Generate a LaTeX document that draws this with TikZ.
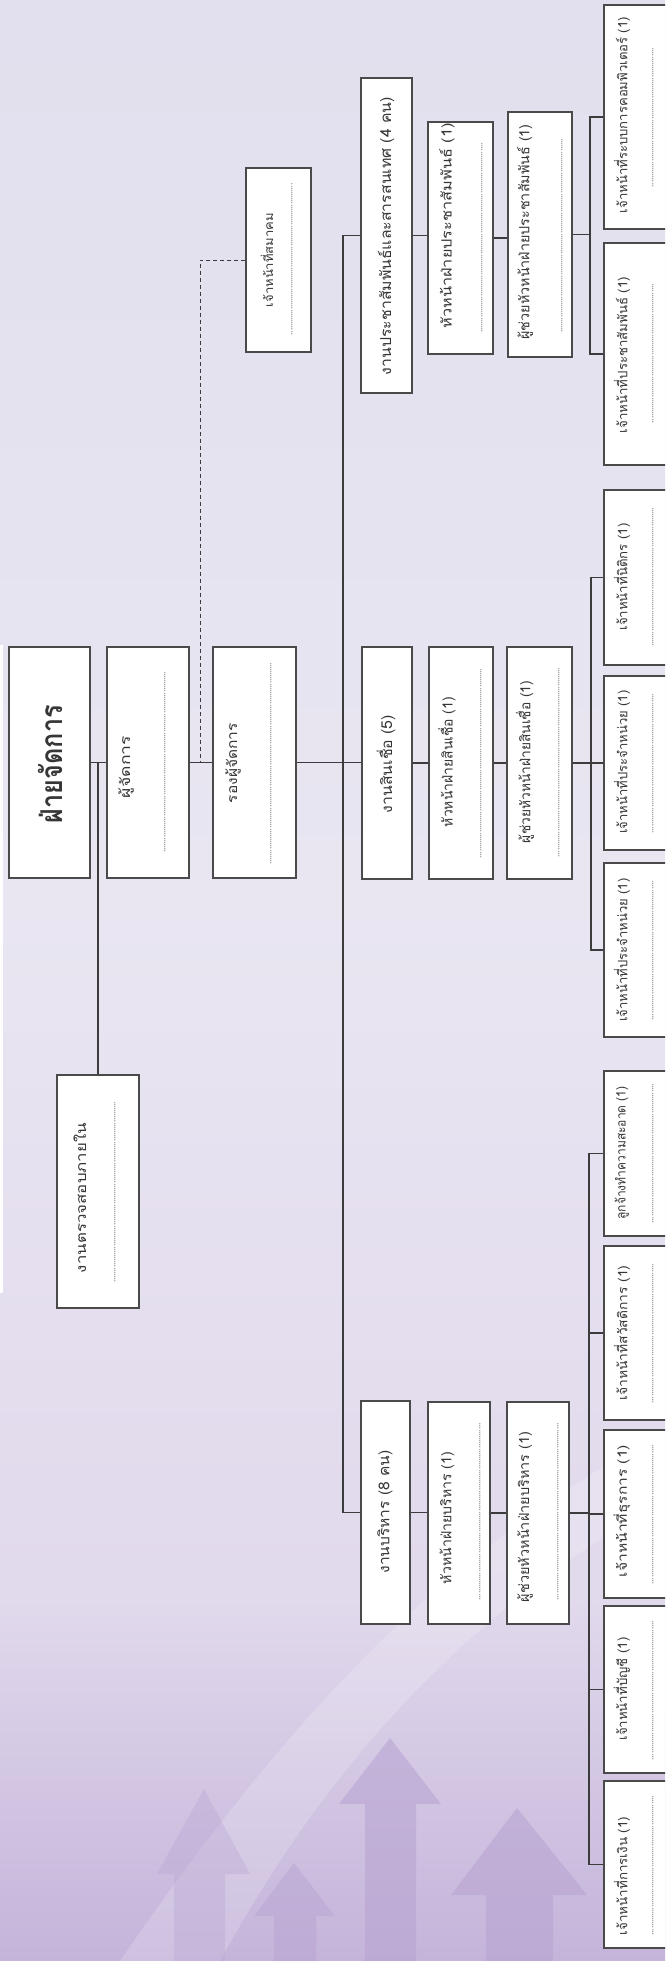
\documentclass[tikz,border=0pt]{standalone}
\usepackage{fontspec}
\setmainfont{Loma}[Script=Thai]
\usepackage{graphicx}
\definecolor{boxc}{HTML}{4A4A4A}
\definecolor{linec}{HTML}{3C3C3C}
\definecolor{txtc}{HTML}{363636}
\definecolor{dotc}{HTML}{4E4E4E}
\definecolor{bgtop}{HTML}{E2DFEE}
\definecolor{bgmid}{HTML}{E9E6F2}
\definecolor{bglow}{HTML}{E1D9EC}
\definecolor{bgbot}{HTML}{C4B4DA}
\definecolor{arrc}{HTML}{B8A4D2}
\tikzset{
  box/.style={draw=boxc, fill=white, line width=1.1pt, inner sep=0pt},
  conn/.style={draw=linec, line width=1.1pt},
  dconn/.style={draw=linec, line width=0.9pt, dash pattern=on 4pt off 3pt},
  lbl/.style={inner sep=0pt, rotate=90, text=txtc},
  dotlbl/.style={inner sep=0pt, rotate=90, text=dotc},
}
\newcommand\bx[5]{\node[box, minimum width={(#3-#2)*1pt}, minimum height={(#5-#4)*1pt}] (#1) at ({(#2+#3)/2},{(#4+#5)/2}) {};}
\newcommand\lb[6]{\node[lbl] (#1) at (#2,#3) {\fontsize{#4}{#4}\selectfont\resizebox{#5pt}{\height}{#6}};}
\newcommand\dts[4]{\node[dotlbl] (#1) at (#2,#3) {\fontsize{9}{9}\selectfont\hbox to #4pt{\leaders\hbox to 2.1pt{\hss.\hss}\hfill}};}
\begin{document}
\begin{tikzpicture}[x=1pt,y=-1pt]
\useasboundingbox (0,0) rectangle (665,1961);
\clip (0,0) rectangle (665,1961);
% background
\shade[top color=bgtop, bottom color=bgmid] (0,0) rectangle (665,900);
\shade[top color=bgmid, bottom color=bglow] (0,899) rectangle (665,1600);
\shade[top color=bglow, bottom color=bgbot] (0,1599) rectangle (665,1961);
\fill[white, opacity=0.18] (120,1961) .. controls (300,1700) and (450,1550) .. (665,1430) -- (665,1500) .. controls (470,1610) and (330,1760) .. (220,1961) -- cycle;
\fill[white] (0,645) rectangle (3,1293);
% decorative arrows
\fill[arrc, opacity=0.35] (204,1789) -- (250,1874) -- (225,1874) -- (225,1961) -- (174,1961) -- (174,1874) -- (157,1874) -- cycle;
\fill[arrc, opacity=0.6] (390,1738) -- (441,1804) -- (416,1804) -- (416,1961) -- (365,1961) -- (365,1804) -- (339,1804) -- cycle;
\fill[arrc, opacity=0.6] (517,1808) -- (587,1895) -- (553,1895) -- (553,1961) -- (486,1961) -- (486,1895) -- (451,1895) -- cycle;
\fill[arrc, opacity=0.5] (294,1863) -- (335,1916) -- (316,1916) -- (316,1961) -- (274,1961) -- (274,1916) -- (254,1916) -- cycle;

% ---------- top level ----------
\bx{boss}{9}{90}{647}{878}
\lb{bosst}{50}{764}{30}{118}{\bfseries ฝ่ายจัดการ}
\bx{mgr}{107}{189}{647}{878}
\lb{mgrt}{126}{767}{14}{62}{ผู้จัดการ}
\dts{mgrd}{165}{762}{181}
\bx{dep}{213}{296}{647}{878}
\lb{dept}{233}{763}{14}{80}{รองผู้จัดการ}
\dts{depd}{271}{763}{203}
\bx{assoc}{246}{311}{168}{352}
\lb{assoct}{267}{260}{12}{94}{เจ้าหน้าที่สมาคม}
\dts{assocd}{292}{259}{152}
\bx{audit}{57}{139}{1075}{1308}
\lb{auditt}{80}{1198}{14}{150}{งานตรวจสอบภายใน}
\dts{auditd}{115}{1192}{181}

% ---------- section heads ----------
\bx{pr}{361}{412}{78}{393}
\lb{prt}{386}{236}{15}{278}{งานประชาสัมพันธ์และสารสนเทศ (4 คน)}
\bx{prh}{428}{493}{122}{354}
\lb{prht}{447}{226}{14}{205}{หัวหน้าฝ่ายประชาสัมพันธ์ (1)}
\dts{prhd}{482}{237}{191}
\bx{pra}{508}{572}{112}{357}
\lb{prat}{525}{232}{14}{215}{ผู้ช่วยหัวหน้าฝ่ายประชาสัมพันธ์ (1)}
\dts{prad}{562}{235}{195}

\bx{cr}{362}{412}{647}{879}
\lb{crt}{386}{764}{15}{98}{งานสินเชื่อ (5)}
\bx{crh}{429}{493}{647}{879}
\lb{crht}{447}{762}{14}{130}{หัวหน้าฝ่ายสินเชื่อ (1)}
\dts{crhd}{481}{763}{190}
\bx{cra}{507}{572}{647}{879}
\lb{crat}{525}{762}{14}{162}{ผู้ช่วยหัวหน้าฝ่ายสินเชื่อ (1)}
\dts{crad}{559}{762}{190}

\bx{ad}{361}{410}{1401}{1624}
\lb{adt}{385}{1512}{15}{123}{งานบริหาร (8 คน)}
\bx{adh}{428}{490}{1402}{1624}
\lb{adht}{447}{1518}{14}{132}{หัวหน้าฝ่ายบริหาร (1)}
\dts{adhd}{480}{1511}{178}
\bx{ada}{507}{569}{1402}{1624}
\lb{adat}{525}{1517}{14}{170}{ผู้ช่วยหัวหน้าฝ่ายบริหาร (1)}
\dts{adad}{558}{1511}{178}

% ---------- staff ----------
\bx{p1}{604}{680}{5}{229}
\lb{p1t}{622}{115}{13}{196}{เจ้าหน้าที่ระบบการคอมพิวเตอร์ (1)}
\dts{p1d}{653}{117}{140}
\bx{p2}{604}{680}{243}{465}
\lb{p2t}{622}{355}{13}{156}{เจ้าหน้าที่ประชาสัมพันธ์ (1)}
\dts{p2d}{653}{353}{140}

\bx{k1}{604}{680}{490}{665}
\lb{k1t}{622}{577}{13}{107}{เจ้าหน้าที่นิติกร (1)}
\dts{k1d}{653}{577}{139}
\bx{k2}{604}{680}{676}{850}
\lb{k2t}{622}{762}{13}{143}{เจ้าหน้าที่ประจำหน่วย (1)}
\dts{k2d}{653}{763}{140}
\bx{k3}{604}{680}{863}{1037}
\lb{k3t}{622}{950}{13}{143}{เจ้าหน้าที่ประจำหน่วย (1)}
\dts{k3d}{653}{950}{140}

\bx{a1}{604}{680}{1071}{1236}
\lb{a1t}{622}{1153}{13}{133}{ลูกจ้างทำความสะอาด (1)}
\dts{a1d}{653}{1153}{140}
\bx{a2}{604}{680}{1246}{1420}
\lb{a2t}{622}{1333}{13}{135}{เจ้าหน้าที่สวัสดิการ (1)}
\dts{a2d}{653}{1333}{140}
\bx{a3}{604}{680}{1430}{1598}
\lb{a3t}{622}{1511}{13}{132}{เจ้าหน้าที่ธุรการ (1)}
\dts{a3d}{653}{1514}{140}
\bx{a4}{604}{680}{1606}{1773}
\lb{a4t}{622}{1689}{13}{103}{เจ้าหน้าที่บัญชี (1)}
\dts{a4d}{653}{1690}{140}
\bx{a5}{604}{680}{1781}{1948}
\lb{a5t}{622}{1876}{13}{118}{เจ้าหน้าที่การเงิน (1)}
\dts{a5d}{653}{1865}{140}

% ---------- connectors ----------
\coordinate (dj) at (200,762);
\coordinate (bus) at (343,762);
\coordinate (prbus) at (590,236);
\coordinate (crbus) at (591,763);
\coordinate (adbus) at (589,1512);

\draw[conn] (boss.east) -- (boss.east -| mgr.west);
\draw[conn] (mgr.east) -- (mgr.east -| dep.west);
\draw[conn] (audit.north) -- (audit.north |- boss.east);
\draw[dconn] (assoc.west) -| (dj);
\draw[conn] (dep.east) -- (dep.east -| cr.west);
\draw[conn] (pr.west) -| (bus) |- (ad.west);

\draw[conn] (pr.east) -- (pr.east -| prh.west);
\draw[conn] (prh.east) -- (prh.east -| pra.west);
\draw[conn] (pra.east) -- (pra.east -| prbus);
\draw[conn] (p1.west) -| (prbus) |- (p2.west);

\draw[conn] (cr.east) -- (cr.east -| crh.west);
\draw[conn] (crh.east) -- (crh.east -| cra.west);
\draw[conn] (cra.east) -- (cra.east -| crbus);
\draw[conn] (k1.west) -| (crbus) |- (k3.west);
\draw[conn] (k2.west) -- (k2.west -| crbus);

\draw[conn] (ad.east) -- (ad.east -| adh.west);
\draw[conn] (adh.east) -- (adh.east -| ada.west);
\draw[conn] (ada.east) -- (ada.east -| adbus);
\draw[conn] (a1.west) -| (adbus) |- (a5.west);
\draw[conn] (a2.west) -- (a2.west -| adbus);
\draw[conn] (a3.west) -- (a3.west -| adbus);
\draw[conn] (a4.west) -- (a4.west -| adbus);
\end{tikzpicture}
\end{document}
